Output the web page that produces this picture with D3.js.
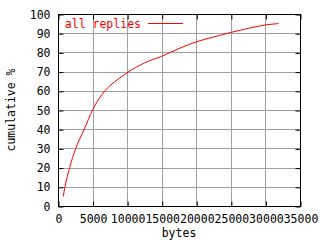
<!DOCTYPE html>
<html>
<head>
  <title>cumulative replies</title>
  <script src="https://d3js.org/d3.v7.min.js"></script>
  <style type="text/css">
    body { margin: 0; background: #fff; }
    text { font-family: "DejaVu Sans Mono", monospace; font-size: 11.5px; }
  </style>
</head>
<body>
<svg width="320" height="240"></svg>
<script>
// values
var bytes = [760, 1010, 1690, 2560, 3800, 5000, 6800, 7500, 8750, 10000, 12500, 15000, 17500, 20000, 22500, 25000, 27500, 30000, 31900];
var cumulative = [4.9, 10, 20, 30, 40, 50, 60, 62.6, 66.2, 69.4, 74.5, 78, 82, 85.5, 88, 90.4, 92.5, 94.3, 95];
var xTicks = [0, 5000, 10000, 15000, 20000, 25000, 30000, 35000];
var yTicks = [0, 10, 20, 30, 40, 50, 60, 70, 80, 90, 100];
var seriesName = 'all replies';

var svg = d3.select('svg');
// plot box (window.top is reserved, so use other names)
var pLeft = 58, pRight = 300, pTop = 14, pBottom = 206;

var x = d3.scaleLinear().domain([0, 35000]).range([pLeft, pRight]);
var y = d3.scaleLinear().domain([0, 100]).range([pBottom, pTop]);

// grid
svg.append('g').selectAll('line').data(xTicks).enter().append('line')
  .attr('x1', d => Math.round(x(d)) + 0.5).attr('x2', d => Math.round(x(d)) + 0.5)
  .attr('y1', pTop).attr('y2', pBottom)
  .attr('stroke', '#a0a0a0');
svg.append('g').selectAll('line').data(yTicks).enter().append('line')
  .attr('y1', d => Math.round(y(d)) + 0.5).attr('y2', d => Math.round(y(d)) + 0.5)
  .attr('x1', pLeft).attr('x2', pRight)
  .attr('stroke', '#a0a0a0');

// axes with inward ticks
svg.append('g').attr('transform', `translate(0.5,${pBottom + 0.5})`)
  .call(d3.axisBottom(x).tickValues(xTicks).tickFormat(d3.format('d')).tickSizeInner(-5).tickSizeOuter(0).tickPadding(8));
svg.append('g').attr('transform', `translate(0.5,${pTop + 0.5})`)
  .call(d3.axisTop(x).tickValues(xTicks).tickFormat('').tickSizeInner(-5).tickSizeOuter(0));
svg.append('g').attr('transform', `translate(${pLeft + 0.5},0.5)`)
  .call(d3.axisLeft(y).tickValues(yTicks).tickSizeInner(-5).tickSizeOuter(0).tickPadding(8));
svg.append('g').attr('transform', `translate(${pRight + 0.5},0.5)`)
  .call(d3.axisRight(y).tickValues(yTicks).tickFormat('').tickSizeInner(-5).tickSizeOuter(0));

svg.selectAll('.domain').remove();
svg.selectAll('.tick line').attr('stroke', '#000');
svg.selectAll('.tick text').attr('fill', '#000').style('font-family', '"DejaVu Sans Mono", monospace').style('font-size', '11.5px');

svg.append('rect')
  .attr('x', pLeft + 0.5).attr('y', pTop + 0.5)
  .attr('width', pRight - pLeft).attr('height', pBottom - pTop)
  .attr('fill', 'none').attr('stroke', '#000');

// the series
var pts = bytes.map((b, i) => [b, cumulative[i]]);
svg.append('path')
  .datum(pts)
  .attr('fill', 'none')
  .attr('stroke', '#ff0000')
  .attr('d', d3.line().x(d => x(d[0])).y(d => y(d[1])).curve(d3.curveMonotoneX));

// legend
svg.append('text').attr('x', 141).attr('y', 28).attr('text-anchor', 'end')
  .attr('fill', '#ff0000').text(seriesName);
svg.append('line').attr('x1', 148).attr('x2', 183).attr('y1', 23.5).attr('y2', 23.5)
  .attr('stroke', '#ff0000');

// axis titles
svg.append('text').attr('x', 179).attr('y', 237).attr('text-anchor', 'middle').text('bytes');
svg.append('text').attr('transform', 'translate(15,110) rotate(-90)')
  .attr('text-anchor', 'middle').text('cumulative %');
</script>
</body>
</html>
